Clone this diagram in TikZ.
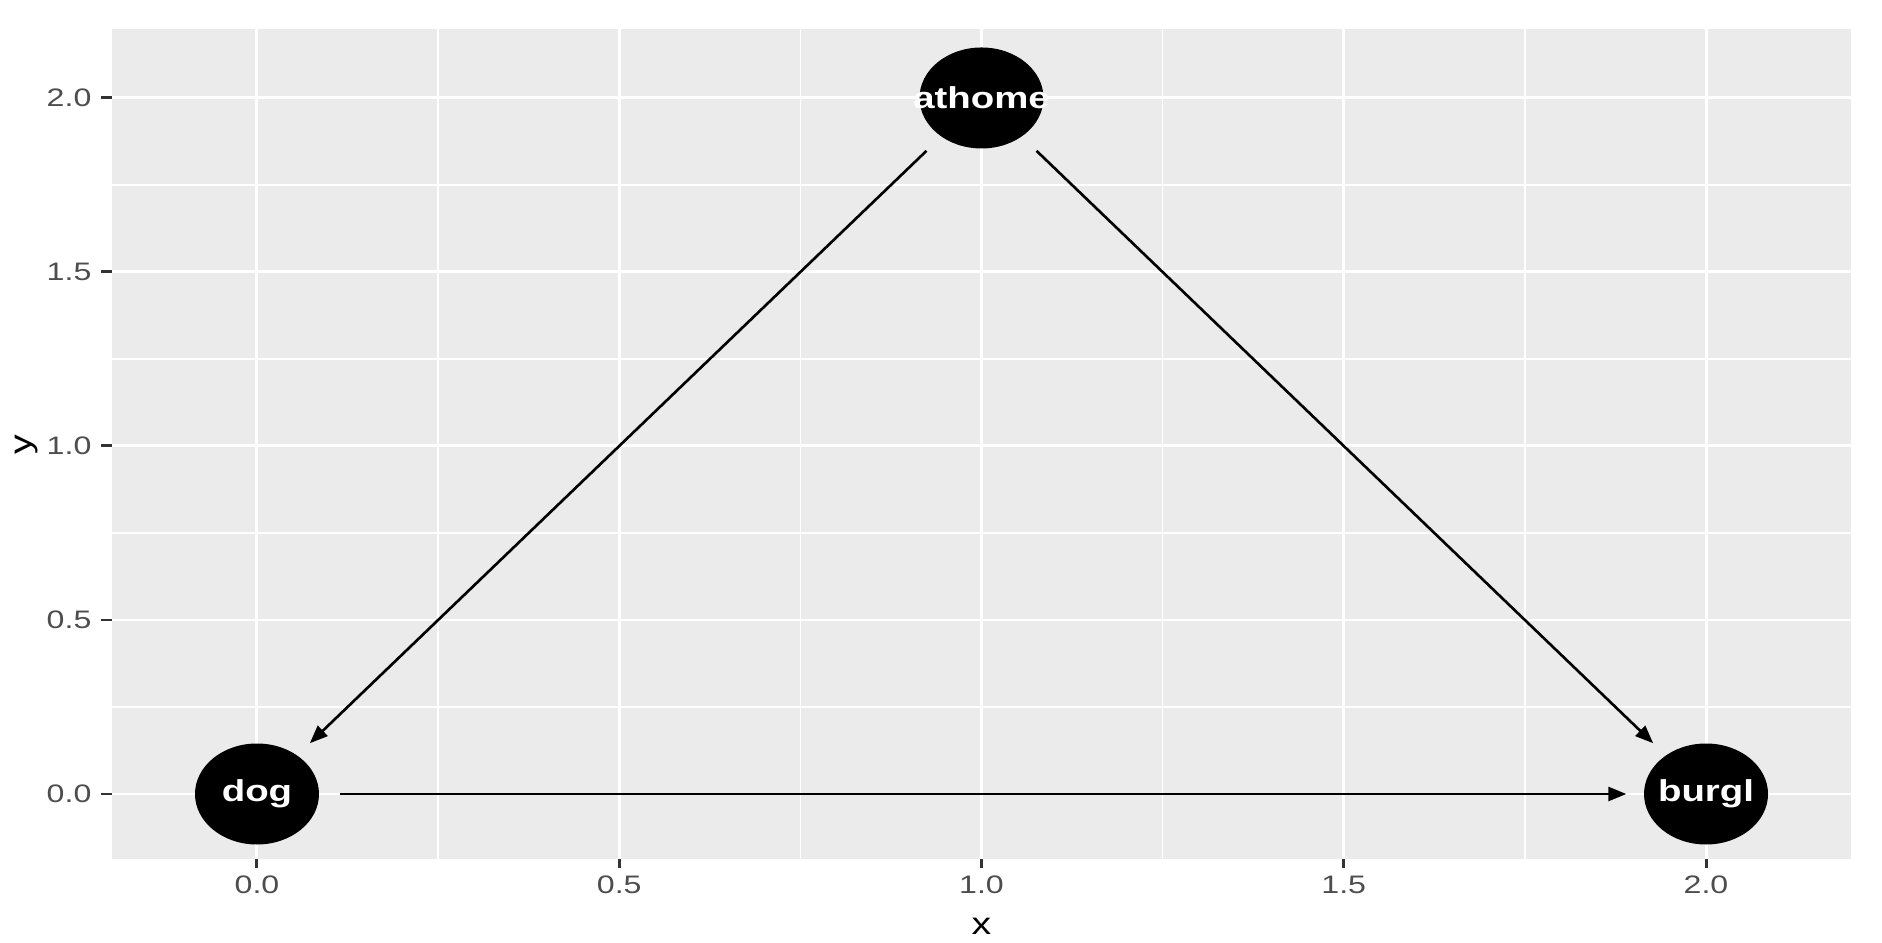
\documentclass[tikz,border=0pt]{standalone}
\usepackage{fontspec}
\setsansfont{Liberation Sans}[FakeStretch=1.27]
\usetikzlibrary{shapes.geometric, arrows.meta}
\definecolor{panel-grey}{HTML}{EBEBEB}
\definecolor{label-grey}{HTML}{4D4D4D}
\definecolor{tick-grey}{HTML}{333333}

\begin{document}
\begin{tikzpicture}[x=7.245cm, y=3.48cm,
    dagnode/.style={ellipse, fill=black, minimum width=1.24cm, minimum height=1.01cm,
                    inner sep=0pt, text=white, font=\sffamily\bfseries\fontsize{8.6}{9}\selectfont},
    dagedge/.style={-{Triangle[length=1.8mm, width=1.4mm]}, line width=0.75pt,
                    shorten <=2mm, shorten >=1.7mm},
    majorgrid/.style={white, line width=0.85pt},
    minorgrid/.style={white, line width=0.43pt},
    axistick/.style={tick-grey, line width=0.85pt},
    ticklabel/.style={text=label-grey, font=\sffamily\fontsize{7.2}{8}\selectfont, inner sep=0pt},
    axistitle/.style={font=\sffamily\fontsize{8.8}{10}\selectfont, inner sep=0pt}]
  \useasboundingbox (-0.3547,-0.4253) rectangle (2.2429,2.2816);
  % panel and grid
  \fill[panel-grey] (-0.2,-0.187) rectangle (2.2,2.197);
  \foreach \v in {0.25,0.75,1.25,1.75} {
    \draw[minorgrid] (\v,-0.187) -- (\v,2.197);
    \draw[minorgrid] (-0.2,\v) -- (2.2,\v);
  }
  \foreach \v [count=\i] in {0.0,0.5,1.0,1.5,2.0} {
    \draw[majorgrid] (\v,-0.187) -- (\v,2.197);
    \draw[majorgrid] (-0.2,\v) -- (2.2,\v);
    \draw[axistick] (\v,-0.187) -- ++(0,-0.09cm);
    \draw[axistick] (-0.2,\v) -- ++(-0.11cm,0);
    \node[ticklabel, anchor=center] (xlab\i) at (\v,-0.262) {\v};
    \node[ticklabel, anchor=east] (ylab\i) at ([xshift=-0.2cm]-0.2,\v) {\v};
  }
  % axis titles
  \node[axistitle] (xtitle) at (1,-0.379) {x};
  \node[axistitle, rotate=90] (ytitle) at (-0.3175,1.005) {y};

  % the dag
  \node[dagnode] (athome) at (1,2) {\makebox[0pt]{athome}};
  \node[dagnode] (dog) at (0,0) {\makebox[0pt]{dog}};
  \node[dagnode] (burgl) at (2,0) {\makebox[0pt]{burgl}};
  \draw[dagedge] (athome) -- (dog);
  \draw[dagedge] (athome) -- (burgl);
  \draw[dagedge] (dog) -- (burgl);
\end{tikzpicture}
\end{document}
